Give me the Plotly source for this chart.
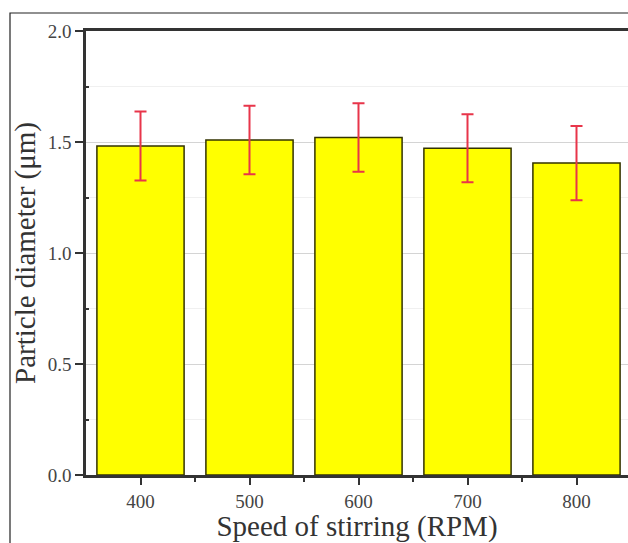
import plotly.graph_objects as go

categories = [400, 500, 600, 700, 800]
diameters = [1.482, 1.509, 1.520, 1.472, 1.405]
errors = [0.155, 0.154, 0.154, 0.153, 0.167]
y_ticks = [0.0, 0.5, 1.0, 1.5, 2.0]
y_ticklabels = ["0.0", "0.5", "1.0", "1.5", "2.0"]

W, H = 628, 543
L, T, R = 86, 31, 0
B = H - 475
pw, ph = W - L - R, H - T - B

fig = go.Figure()
fig.add_trace(go.Bar(
    x=categories, y=diameters, width=80,
    marker=dict(color="#ffff00", line=dict(color="#333300", width=1.5)),
    error_y=dict(type="data", array=errors, visible=True, color="#e8354a",
                 thickness=2, width=6),
))

serif = "Liberation Serif, Times New Roman, serif"
fig.update_layout(
    width=W, height=H,
    margin=dict(l=L, r=R, t=T, b=B, pad=0),
    paper_bgcolor="white", plot_bgcolor="white",
    showlegend=False,
    font=dict(family=serif, color="#444"),
    xaxis=dict(
        range=[350, 350 + pw / 109 * 100],
        tickvals=categories, ticktext=[str(c) for c in categories],
        ticks="outside", ticklen=7, tickwidth=2, tickcolor="#333",
        showline=True, linewidth=2.5, linecolor="#333", mirror=True,
        showgrid=False, zeroline=False,
        tickfont=dict(size=19, color="#444", family=serif),
        title=dict(text="Speed of stirring (RPM)", font=dict(size=29, color="#333", family=serif), standoff=2),
        minor=dict(tickvals=[450, 550, 650, 750], ticks="outside", ticklen=4, tickwidth=2, tickcolor="#333"),
    ),
    yaxis=dict(
        range=[0, 2.0],
        tickvals=y_ticks, ticktext=y_ticklabels,
        ticks="outside", ticklen=8, tickwidth=2, tickcolor="#333",
        showline=True, linewidth=2.5, linecolor="#333", mirror=False,
        showgrid=True, gridcolor="#d4d4d4", gridwidth=1, zeroline=False,
        tickfont=dict(size=19, color="#444", family=serif),
        title=dict(text="Particle diameter (μm)", font=dict(size=29, color="#333", family=serif), standoff=4),
        minor=dict(tickvals=[0.25, 0.75, 1.25, 1.75], ticks="inside", ticklen=3, tickwidth=2,
                   tickcolor="#333", showgrid=True, gridcolor="#f0f0f0"),
    ),
)

# outer frame (left and top edges visible, others off-page)
fig.add_shape(type="rect", xref="paper", yref="paper",
              x0=(10 - L) / pw, x1=1.5, y0=-0.5, y1=(475 - 13) / ph,
              line=dict(color="#222", width=1.2), fillcolor="rgba(0,0,0,0)", layer="above")

fig.write_html(
    "out.html",
    config={"displayModeBar": False},
    post_script="document.body.style.margin='0';document.body.style.overflow='hidden';",
)
